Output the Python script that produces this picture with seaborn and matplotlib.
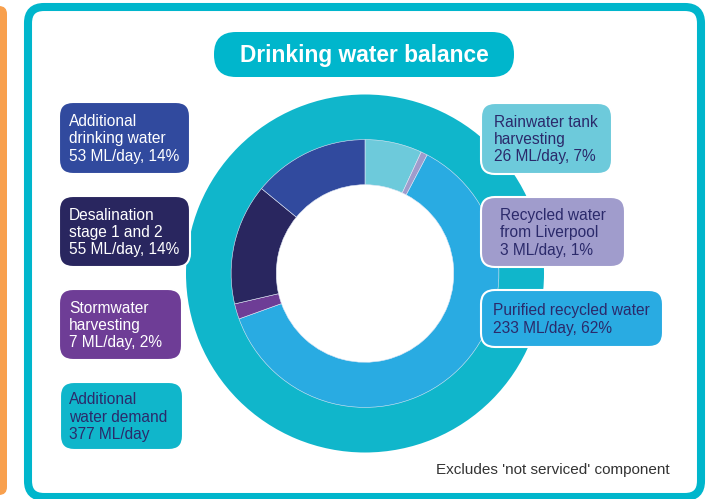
import matplotlib
matplotlib.use("Agg")
import matplotlib.pyplot as plt
from matplotlib.patches import FancyBboxPatch
import seaborn as sns

sns.set_theme(style="white")
plt.rcParams['font.family'] = ['Liberation Sans', 'DejaVu Sans']

# ---- data ----
sources = ["Rainwater tank harvesting", "Recycled water from Liverpool",
           "Purified recycled water", "Stormwater harvesting",
           "Desalination stage 1 and 2", "Additional drinking water"]
values = [26, 3, 233, 7, 55, 53]          # ML/day
shares = [7, 1, 62, 2, 14, 14]            # %
colors = ["#6dcadb", "#a09ccc", "#29abe2", "#6e3d96", "#29265f", "#314a9e"]
demand_total = 377
title = "Drinking water balance"
footnote = "Excludes 'not serviced' component"

TEAL = "#10b6cb"
NAVY = "#2b2a6b"

W, H = 714, 499
fig = plt.figure(figsize=(W / 100, H / 100), dpi=100)
fig.patch.set_facecolor("white")

# background axes (pixel coordinates)
ax_bg = fig.add_axes([0, 0, 1, 1], zorder=0)
ax_bg.set_xlim(0, W); ax_bg.set_ylim(H, 0); ax_bg.axis("off")
ax_bg.add_patch(FancyBboxPatch((-30, 6), 37, 489, boxstyle="round,pad=0,rounding_size=8",
                               fc="#f8a04e", ec="none"))
ax_bg.add_patch(FancyBboxPatch((28, 7), 673, 490, boxstyle="round,pad=0,rounding_size=16",
                               fc="white", ec="#00b6cc", lw=5.8))

# donut
cx, cy, R = 365, 273.5, 179
ax_pie = fig.add_axes([(cx - R) / W, (H - cy - R) / H, 2 * R / W, 2 * R / H], zorder=1)
ax_pie.set_xlim(-1, 1); ax_pie.set_ylim(-1, 1); ax_pie.set_aspect("equal"); ax_pie.axis("off")
ax_pie.pie([demand_total], radius=1.0, colors=[TEAL], startangle=90,
           wedgeprops=dict(width=0.255, edgecolor="none"))
ax_pie.pie(values, radius=0.748, colors=colors, startangle=90, counterclock=False,
           wedgeprops=dict(width=0.252, edgecolor="#dfe6f5", linewidth=0.4))
ax_pie.set_xlim(-1, 1); ax_pie.set_ylim(-1, 1)

# foreground axes
ax = fig.add_axes([0, 0, 1, 1], zorder=2)
ax.set_xlim(0, W); ax.set_ylim(H, 0); ax.axis("off")
ax.patch.set_alpha(0)

ax.add_patch(FancyBboxPatch((214, 32), 300, 45, boxstyle="round,pad=0,rounding_size=22",
                            fc="#00b6cc", ec="none"))
ax.text(364, 55.5, title, ha="center", va="center", color="white",
        fontsize=16.4, fontweight="bold")

def label(x, y, w, h, fc, tc, tx, text):
    ax.add_patch(FancyBboxPatch((x, y), w, h, boxstyle="round,pad=0,rounding_size=14",
                                fc=fc, ec="white", lw=1.5))
    ax.text(tx, y + h / 2 + 1, text, ha="left", va="center", color=tc,
            fontsize=11.2, linespacing=1.2)

def fmt(name_lines, i):
    return name_lines + f"\n{values[i]} ML/day, {shares[i]}%"

label(59, 102, 131, 72, colors[5], "white", 69, fmt("Additional\ndrinking water", 5))
label(59, 196, 131, 71, colors[4], "white", 69, fmt("Desalination\nstage 1 and 2", 4))
label(59, 289, 123, 71, colors[3], "white", 69, fmt("Stormwater\nharvesting", 3))
label(60, 382, 123, 68, TEAL, NAVY, 69, f"Additional\nwater demand\n{demand_total} ML/day")
label(481, 103, 131, 71, colors[0], NAVY, 494, fmt("Rainwater tank\nharvesting", 0))
label(481, 197, 144, 70, colors[1], NAVY, 500, fmt("Recycled water\nfrom Liverpool", 1))
label(481, 290, 182, 57, colors[2], NAVY, 493, fmt("Purified recycled water", 2))

ax.text(670, 470, footnote, ha="right", va="center", color="#333333", fontsize=11)

fig.savefig("out.png", dpi=100)
